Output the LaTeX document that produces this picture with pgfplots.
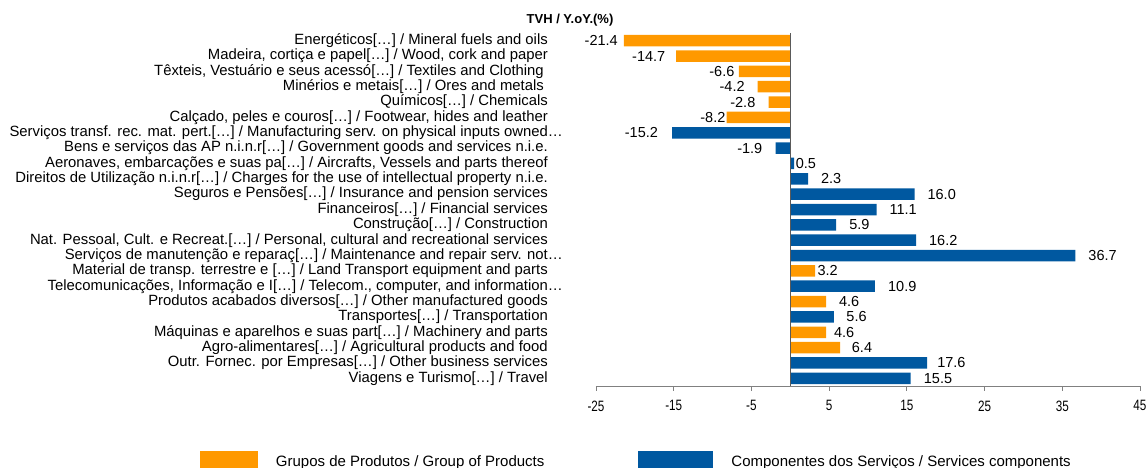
\documentclass[border=0pt]{standalone}
\usepackage{pgfplots}
\pgfplotsset{compat=1.18}
\usepackage{pgfplotstable}
\usepackage{fontspec}
\setmainfont{Liberation Sans}
\newfontfamily\narrowfont[FakeStretch=0.78]{Liberation Sans}
\definecolor{orangeC}{RGB}{255,153,0}
\definecolor{blueC}{RGB}{0,88,160}
\definecolor{axisgray}{RGB}{128,128,128}
\definecolor{zerogray}{RGB}{90,90,90}

% orange: Grupos de Produtos
\pgfplotstableread{
y x lab
0 -21.4 -21.4\kern6pt
1 -14.7 -14.7\kern10.6pt
2 -6.6 -6.6\kern4.4pt
3 -4.2 -4.2\kern12.8pt
4 -2.8 -2.8\kern13pt
5 -8.2 -8.2\kern1pt
}\orangeneg
\pgfplotstableread{
y x lab
15 3.2 \kern2.3pt3.2
17 4.6 \kern12.8pt4.6
19 4.6 \kern7.8pt4.6
20 6.4 \kern11.7pt6.4
}\orangepos
% blue: Componentes dos Servicos
\pgfplotstableread{
y x lab
6 -15.2 -15.2\kern14pt
7 -1.9 -1.9\kern13pt
}\blueneg
\pgfplotstableread{
y x lab
8 0.5 \kern1.5pt0.5
9 2.3 \kern12.8pt2.3
10 16.0 \kern12.8pt16.0
11 11.1 \kern12.8pt11.1
12 5.9 \kern13pt5.9
13 16.2 \kern12.8pt16.2
14 36.7 \kern12.8pt36.7
16 10.9 \kern13pt10.9
18 5.6 \kern12.5pt5.6
21 17.6 \kern10pt17.6
22 15.5 \kern13pt15.5
}\bluepos

\pgfplotsset{
  vlabels/.style={
    point meta=explicit symbolic,
    nodes near coords,
    every node near coord/.append style={font=\fontsize{14.5}{15}\selectfont, inner sep=0pt, anchor=#1, text=black},
  }
}

\begin{document}
\begin{tikzpicture}
\path[use as bounding box] (-596pt,-82pt) rectangle (550pt,386pt);
\begin{axis}[
  at={(0pt,0pt)}, anchor=south west,
  scale only axis, width=544pt, height=353pt,
  xmin=-25, xmax=45, ymin=-0.5, ymax=22.5, y dir=reverse,
  xbar, bar width=11.5pt, bar shift=0pt,
  axis x line*=bottom, axis y line*=left,
  x axis line style={-, draw=axisgray, line width=1pt},
  y axis line style={draw=none},
  xtick={-25,-15,-5,5,15,25,35,45},
  xticklabels={-25,-15,-5,5,15,25,35,45},
  tick align=outside, major tick length=4.5pt,
  xtick style={draw=axisgray, line width=0.8pt},
  x tick label style={font=\narrowfont\fontsize{15}{16}\selectfont, yshift=-6.5pt},
  ytick={0,...,22},
  ytick style={draw=none},
  y tick label style={font=\fontsize{14.85}{15}\selectfont, inner sep=0pt, xshift=-43.5pt},
  yticklabels={
    Energéticos[…] / Mineral fuels and oils,
    {Madeira, cortiça e papel[…] / Wood, cork and paper},
    {Têxteis, Vestuário e seus acessó[…] / Textiles and Clothing\hspace*{4pt}},
    Minérios e metais[…] / Ores and metals\hspace*{4pt},
    Químicos[…] / Chemicals,
    {Calçado, peles e couros[…] / Footwear, hides and leather},
    Serviços transf. rec. mat. pert.[…] / Manufacturing serv. on physical inputs owned…\hspace*{-15pt},
    Bens e serviços das AP n.i.n.r[…] / Government goods and services n.i.e.,
    {Aeronaves, embarcações e suas pa[…] / Aircrafts, Vessels and parts thereof},
    Direitos de Utilização n.i.n.r[…] / Charges for the use of intellectual property n.i.e.,
    Seguros e Pensões[…] / Insurance and pension services,
    Financeiros[…] / Financial services,
    Construção[…] / Construction,
    {Nat. Pessoal, Cult. e Recreat.[…] / Personal, cultural and recreational services},
    Serviços de manutenção e reparaç[…] / Maintenance and repair serv. not…\hspace*{-15pt},
    Material de transp. terrestre e […] / Land Transport equipment and parts,
    {Telecomunicações, Informação e I[…] / Telecom., computer, and information…\hspace*{-15pt}},
    Produtos acabados diversos[…] / Other manufactured goods,
    Transportes[…] / Transportation,
    Máquinas e aparelhos e suas part[…] / Machinery and parts,
    Agro-alimentares[…] / Agricultural products and food,
    Outr. Fornec. por Empresas[…] / Other business services,
    Viagens e Turismo[…] / Travel
  },
  extra x ticks={0}, extra x tick labels={},
  extra x tick style={grid=major, major grid style={draw=zerogray, line width=1.3pt}, major tick length=0pt},
  axis on top,
  legend columns=2,
  legend style={draw=none, fill=none, inner sep=0pt, outer sep=0pt,
    at={(axis description cs:-0.728,-0.2125)}, anchor=west,
    font=\fontsize{15}{15}\selectfont,
    /tikz/every even column/.append style={column sep=92pt}},
]
\addplot[fill=orangeC, draw=none, forget plot, vlabels=east] table[x=x, y=y, meta=lab] {\orangeneg};
\addplot[fill=orangeC, draw=none, forget plot, vlabels=west] table[x=x, y=y, meta=lab] {\orangepos};
\addplot[fill=blueC, draw=none, forget plot, vlabels=east] table[x=x, y=y, meta=lab] {\blueneg};
\addplot[fill=blueC, draw=none, forget plot, vlabels=west] table[x=x, y=y, meta=lab] {\bluepos};
\addlegendimage{legend image code/.code={\fill[orangeC, draw=none] (0pt,-9pt) rectangle (58pt,11pt); \path[draw=none, fill=none] (58pt,0pt) rectangle (74pt,0.1pt);}}
\addlegendentry{Grupos de Produtos / Group of Products}
\addlegendimage{legend image code/.code={\fill[blueC, draw=none] (0pt,-9pt) rectangle (75pt,11pt); \path[draw=none, fill=none] (75pt,0pt) rectangle (91pt,0.1pt);}}
\addlegendentry{Componentes dos Serviços / Services components}
\end{axis}
\node[font=\bfseries\fontsize{13}{15}\selectfont] at (-26pt,366pt) {TVH / Y.oY.(\%)};
\end{tikzpicture}
\end{document}
